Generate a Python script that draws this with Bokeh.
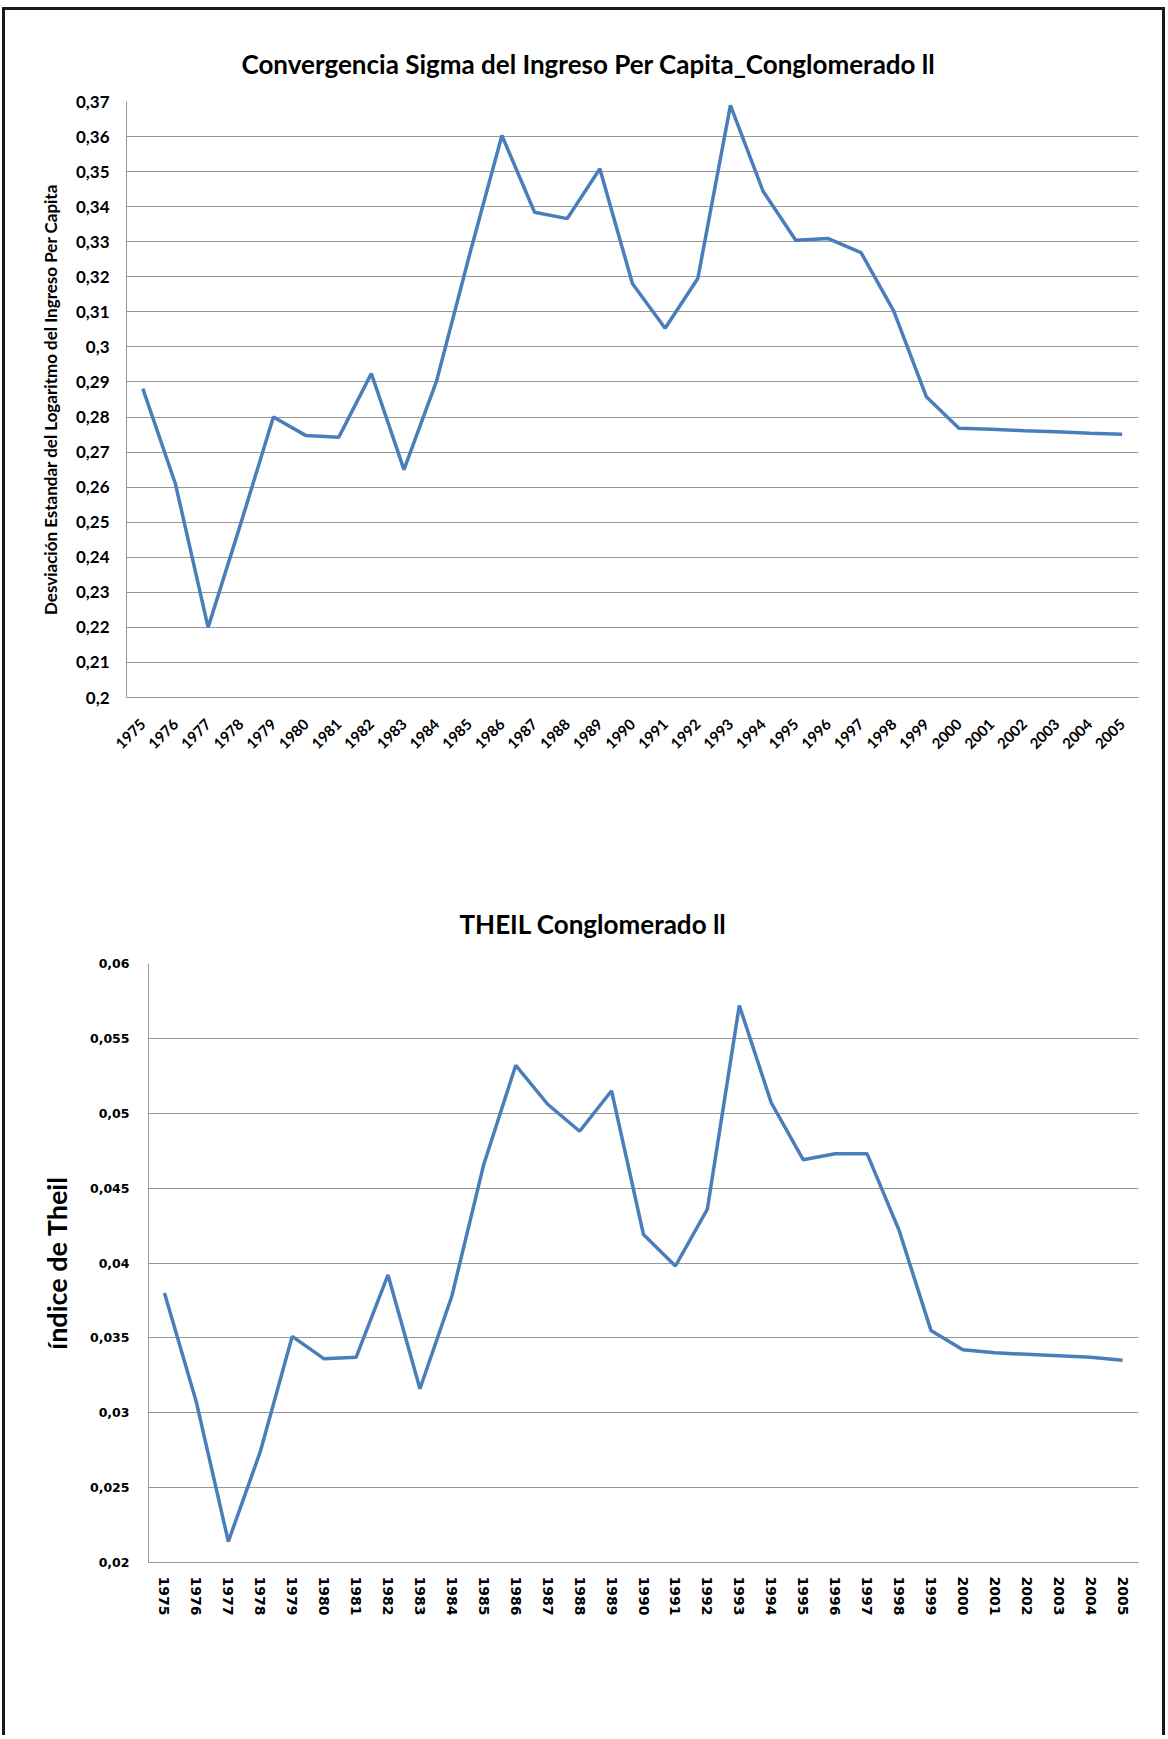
import math
from bokeh.plotting import figure
from bokeh.layouts import column
from bokeh.models import FixedTicker, Range1d
from bokeh.embed import file_html
from bokeh.resources import INLINE

# ---------------- data ----------------
years = [str(y) for y in range(1975, 2006)]

sigma = [0.2881, 0.2609, 0.2200, 0.2496, 0.2800, 0.2747, 0.2742, 0.2924, 0.2650, 0.2903,
         0.3260, 0.3603, 0.3384, 0.3366, 0.3508, 0.3180, 0.3053, 0.3195, 0.3689, 0.3444,
         0.3304, 0.3309, 0.3269, 0.3103, 0.2858, 0.2768, 0.2765, 0.2761, 0.2758, 0.2754, 0.2751]

theil = [0.0380, 0.0307, 0.0214, 0.0274, 0.0351, 0.0336, 0.0337, 0.0392, 0.0316, 0.0378,
         0.0466, 0.0532, 0.0506, 0.0488, 0.0515, 0.0419, 0.0398, 0.0436, 0.0572, 0.0507,
         0.0469, 0.0473, 0.0473, 0.0422, 0.0355, 0.0342, 0.0340, 0.0339, 0.0338, 0.0337, 0.0335]

sigma_ticks = [0.20, 0.21, 0.22, 0.23, 0.24, 0.25, 0.26, 0.27, 0.28, 0.29,
               0.30, 0.31, 0.32, 0.33, 0.34, 0.35, 0.36, 0.37]
sigma_tick_labels = ["0,2", "0,21", "0,22", "0,23", "0,24", "0,25", "0,26", "0,27", "0,28", "0,29",
                     "0,3", "0,31", "0,32", "0,33", "0,34", "0,35", "0,36", "0,37"]

theil_ticks = [0.020, 0.025, 0.030, 0.035, 0.040, 0.045, 0.050, 0.055, 0.060]
theil_tick_labels = ["0,02", "0,025", "0,03", "0,035", "0,04", "0,045", "0,05", "0,055", "0,06"]

title1 = "Convergencia Sigma  del Ingreso Per Capita_Conglomerado ll"
ylabel1 = "Desviación Estandar del Logaritmo del Ingreso Per Capita"
title2 = "THEIL Conglomerado ll"
ylabel2 = "índice de Theil"

LINE = "#4a7ebb"
GRID = "#979797"
FONT = "Lato"
FONT2 = "DejaVu Sans"

W = 1157


def style(p):
    p.outline_line_color = None
    p.xgrid.visible = False
    p.ygrid.grid_line_color = GRID
    p.ygrid.grid_line_width = 1
    for ax in (p.xaxis[0], p.yaxis[0]):
        ax.axis_line_color = GRID
        ax.axis_line_width = 1
        ax.major_tick_line_color = None
        ax.minor_tick_line_color = None
        ax.major_tick_out = 0
        ax.major_tick_in = 0
        ax.major_label_text_color = "black"
        ax.major_label_text_font_style = "bold"
        ax.axis_label_text_font_style = "bold"
        ax.axis_label_text_color = "black"
    p.title.align = "left"
    p.title.text_font = FONT
    p.title.text_font_style = "bold"
    p.title.text_font_size = "26px"
    p.title.text_color = "black"


# ---------------- chart 1 ----------------
p1 = figure(width=W, height=820, x_range=years, y_range=Range1d(0.20, 0.37),
            output_backend="svg", toolbar_location=None, title=title1,
            min_border_left=121, min_border_right=24, min_border_top=91, min_border_bottom=133)
p1.frame_align = False
p1.line(x=years, y=sigma, line_color=LINE, line_width=3.5)
style(p1)
p1.title.standoff = 44
p1.title.offset = 115
p1.yaxis[0].ticker = FixedTicker(ticks=sigma_ticks)
p1.yaxis[0].major_label_overrides = dict(zip(sigma_ticks, sigma_tick_labels))
p1.yaxis[0].major_label_text_font = FONT
p1.yaxis[0].major_label_text_font_size = "17px"
p1.yaxis[0].major_label_standoff = 17
p1.yaxis[0].axis_label = ylabel1
p1.yaxis[0].axis_label_text_font = FONT
p1.yaxis[0].axis_label_text_font_size = "17px"
p1.yaxis[0].axis_label_standoff = 12
p1.xaxis[0].major_label_text_font = FONT
p1.xaxis[0].major_label_text_font_size = "15px"
p1.xaxis[0].major_label_orientation = math.pi / 4
p1.xaxis[0].major_label_standoff = 24

# ---------------- chart 2 ----------------
p2 = figure(width=W, height=905, x_range=years, y_range=Range1d(0.02, 0.06),
            output_backend="svg", toolbar_location=None, title=title2,
            min_border_left=143, min_border_right=24, min_border_top=133, min_border_bottom=173)
p2.frame_align = False
p2.line(x=years, y=theil, line_color=LINE, line_width=3.5)
style(p2)
p2.title.standoff = 48
p2.title.offset = 311
p2.yaxis[0].ticker = FixedTicker(ticks=theil_ticks)
p2.yaxis[0].major_label_overrides = dict(zip(theil_ticks, theil_tick_labels))
p2.yaxis[0].major_label_text_font = FONT2
p2.yaxis[0].major_label_text_font_size = "12.5px"
p2.yaxis[0].major_label_standoff = 19
p2.yaxis[0].axis_label = ylabel2
p2.yaxis[0].axis_label_text_font = FONT
p2.yaxis[0].axis_label_text_font_size = "27px"
p2.yaxis[0].axis_label_standoff = 14
p2.xaxis[0].major_label_text_font = FONT2
p2.xaxis[0].major_label_text_font_size = "14px"
p2.xaxis[0].major_label_orientation = "vertical"
p2.xaxis[0].major_label_standoff = 14

layout = column(p1, p2, styles={"border-top": "3px solid #1a1a1a",
                                "border-left": "3px solid #1a1a1a",
                                "border-right": "3px solid #1a1a1a",
                                "margin-top": "7px",
                                "margin-left": "2px"})

open("out.html", "w").write(file_html(layout, INLINE))
